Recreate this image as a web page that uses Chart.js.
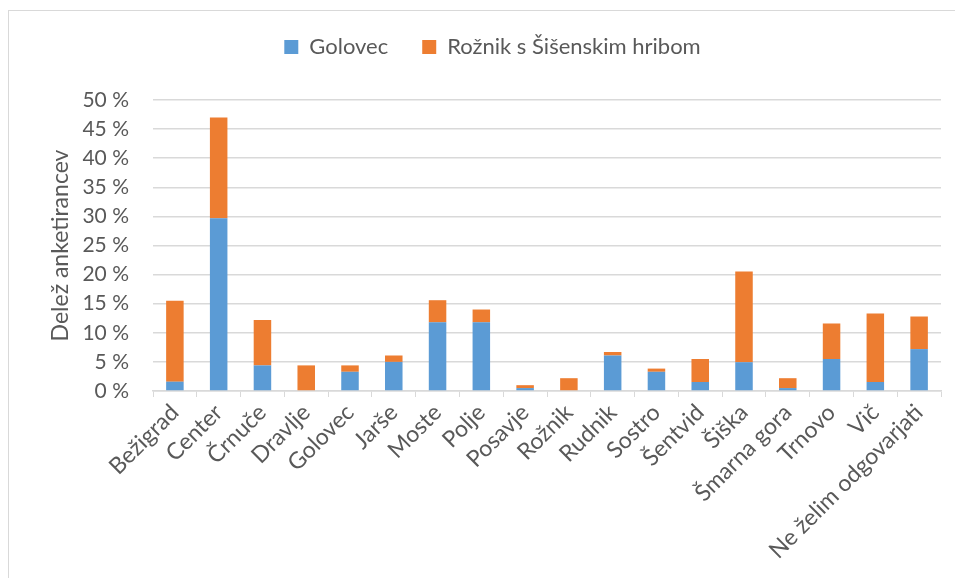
<!DOCTYPE html>
<html>
<head>
<meta charset="utf-8">
<script src="https://cdn.jsdelivr.net/npm/chart.js@4/dist/chart.umd.min.js"></script>
<style>
  body { margin: 0; background: #fff; }
  #frame { position: absolute; left: 8px; top: 10px; width: 960px; height: 600px; border: 1px solid #d9d9d9; }
  #wrap { position: absolute; left: 0; top: 0; width: 955px; height: 578px; }
</style>
</head>
<body>
<div id="frame"></div>
<div id="wrap"><canvas id="bar-chartcanvas"></canvas></div>
<script>
// districts (categories)
var districts = ["Bežigrad", "Center", "Črnuče", "Dravlje", "Golovec", "Jarše", "Moste", "Polje",
  "Posavje", "Rožnik", "Rudnik", "Sostro", "Šentvid", "Šiška", "Šmarna gora", "Trnovo", "Vič",
  "Ne želim odgovarjati"];

// share of respondents (%) per district
var golovec = [1.6, 29.7, 4.4, 0, 3.3, 5.0, 11.8, 11.8, 0.5, 0, 6.1, 3.3, 1.55, 4.95, 0.5, 5.5, 1.55, 7.2];
var roznik = [13.9, 17.3, 7.8, 4.4, 1.1, 1.1, 3.8, 2.2, 0.5, 2.2, 0.6, 0.55, 3.95, 15.6, 1.7, 6.1, 11.75, 5.6];

var seriesNames = ["Golovec", "Rožnik s Šišenskim hribom"];
var axisTitle = "Delež anketirancev";

var ctx = document.getElementById("bar-chartcanvas");
var textColor = "#595959";
var gridColor = "#d9d9d9";

// leave more room between the legend and the plot
var legendGap = {
  id: "legendGap",
  beforeInit: function (chart) {
    var fit = chart.legend.fit;
    chart.legend.fit = function () {
      fit.bind(chart.legend)();
      this.height += 32;
    };
  },
};

var data = {
  labels: districts,
  datasets: [
    {
      label: seriesNames[0],
      data: golovec,
      backgroundColor: "#5b9bd5",
      barPercentage: 0.8,
      categoryPercentage: 0.5,
    },
    {
      label: seriesNames[1],
      data: roznik,
      backgroundColor: "#ed7d31",
      barPercentage: 0.8,
      categoryPercentage: 0.5,
    },
  ],
};

var options = {
  responsive: true,
  maintainAspectRatio: false,
  animation: false,
  layout: { padding: { left: 44, right: 14, top: 2, bottom: 0 } },
  plugins: {
    legend: {
      position: "top",
      labels: {
        color: textColor,
        font: { family: "Lato", size: 22 },
        boxWidth: 14,
        boxHeight: 14,
        padding: 34,
      },
    },
    tooltip: { enabled: false },
  },
  scales: {
    x: {
      stacked: true,
      afterFit: function (scale) { scale.height = 187; },
      grid: { display: true, drawOnChartArea: false, color: gridColor, tickLength: 6, offset: true },
      border: { color: gridColor, width: 1.5 },
      ticks: {
        color: textColor,
        font: { family: "Lato", size: 23 },
        maxRotation: 45,
        minRotation: 45,
        autoSkip: false,
        padding: 2,
      },
    },
    y: {
      stacked: true,
      min: 0,
      max: 50,
      afterFit: function (scale) { scale.width = 109; },
      grid: { color: gridColor, lineWidth: 1.5, drawTicks: false },
      border: { display: false },
      ticks: {
        stepSize: 5,
        color: textColor,
        font: { family: "Lato", size: 21 },
        padding: 24,
        callback: function (v) { return v + " %"; },
      },
      title: {
        display: true,
        text: axisTitle,
        color: textColor,
        font: { family: "Lato", size: 23 },
        padding: 3,
      },
    },
  },
};

var chart = new Chart(ctx, { type: "bar", data: data, options: options, plugins: [legendGap] });
</script>
</body>
</html>
